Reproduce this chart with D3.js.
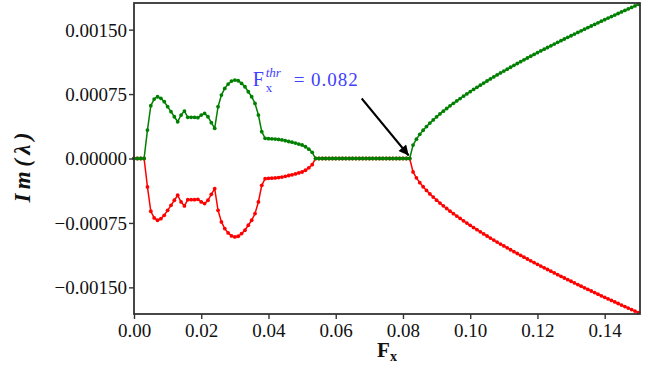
<!DOCTYPE html>
<html>
<head>
<meta charset="utf-8">
<script src="https://cdn.jsdelivr.net/npm/d3@7"></script>
<style>
  html, body { margin: 0; padding: 0; background: #fff; }
  svg { display: block; }
</style>
</head>
<body>
<svg id="chart" width="652" height="370"></svg>
<script>
// Driving force amplitude F_x
const fxValues = [
  0.000, 0.001, 0.002, 0.003, 0.004, 0.005, 0.006, 0.007, 0.008, 0.009,
  0.010, 0.011, 0.012, 0.013, 0.014, 0.015, 0.016, 0.017, 0.018, 0.019,
  0.020, 0.021, 0.022, 0.023, 0.024, 0.025, 0.026, 0.027, 0.028, 0.029,
  0.030, 0.031, 0.032, 0.033, 0.034, 0.035, 0.036, 0.037, 0.038, 0.039,
  0.040, 0.041, 0.042, 0.043, 0.044, 0.045, 0.046, 0.047, 0.048, 0.049,
  0.050, 0.051, 0.052, 0.053, 0.054, 0.055, 0.056, 0.057, 0.058, 0.059,
  0.060, 0.061, 0.062, 0.063, 0.064, 0.065, 0.066, 0.067, 0.068, 0.069,
  0.070, 0.071, 0.072, 0.073, 0.074, 0.075, 0.076, 0.077, 0.078, 0.079,
  0.080, 0.081, 0.082, 0.083, 0.084, 0.085, 0.086, 0.087, 0.088, 0.089,
  0.090, 0.091, 0.092, 0.093, 0.094, 0.095, 0.096, 0.097, 0.098, 0.099,
  0.100, 0.101, 0.102, 0.103, 0.104, 0.105, 0.106, 0.107, 0.108, 0.109,
  0.110, 0.111, 0.112, 0.113, 0.114, 0.115, 0.116, 0.117, 0.118, 0.119,
  0.120, 0.121, 0.122, 0.123, 0.124, 0.125, 0.126, 0.127, 0.128, 0.129,
  0.130, 0.131, 0.132, 0.133, 0.134, 0.135, 0.136, 0.137, 0.138, 0.139,
  0.140, 0.141, 0.142, 0.143, 0.144, 0.145, 0.146, 0.147, 0.148, 0.149,
  0.150
];

// Imaginary part of the eigenvalue, upper (green) branch
const imUpper = [
  0, 0, 0, 0, 0.000331, 0.000614, 0.000692, 0.000719, 0.000700, 0.000661,
  0.000603, 0.000545, 0.000486, 0.000428, 0.000506, 0.000552, 0.000479, 0.000479, 0.000479, 0.000475,
  0.000506, 0.000525, 0.000486, 0.000417, 0.000351, 0.000603, 0.000738, 0.000816, 0.000866, 0.000901,
  0.000913, 0.000905, 0.000874, 0.000835, 0.000777, 0.000719, 0.000641, 0.000506, 0.000312, 0.000235,
  0.000231, 0.000229, 0.000226, 0.000222, 0.000216, 0.000208, 0.000198, 0.000190, 0.000180, 0.000168,
  0.000157, 0.000137, 0.000108, 0.000072, 0, 0, 0, 0, 0, 0,
  0, 0, 0, 0, 0, 0, 0, 0, 0, 0,
  0, 0, 0, 0, 0, 0, 0, 0, 0, 0,
  0, 0, 0, 0.000156, 0.000225, 0.000281, 0.000329, 0.000372, 0.000412, 0.000449,
  0.000485, 0.000519, 0.000551, 0.000582, 0.000613, 0.000642, 0.000670, 0.000698, 0.000726, 0.000752,
  0.000778, 0.000804, 0.000829, 0.000854, 0.000878, 0.000902, 0.000926, 0.000950, 0.000973, 0.000996,
  0.001018, 0.001040, 0.001062, 0.001084, 0.001106, 0.001127, 0.001149, 0.001170, 0.001191, 0.001211,
  0.001232, 0.001252, 0.001272, 0.001292, 0.001312, 0.001332, 0.001352, 0.001371, 0.001391, 0.001410,
  0.001429, 0.001448, 0.001467, 0.001486, 0.001505, 0.001524, 0.001542, 0.001561, 0.001579, 0.001598,
  0.001616, 0.001634, 0.001652, 0.001670, 0.001688, 0.001706, 0.001724, 0.001741, 0.001759, 0.001776,
  0.001794
];

// Imaginary part of the eigenvalue, lower (red) branch
const imLower = [
  0, 0, 0, 0, -0.000331, -0.000614, -0.000692, -0.000719, -0.000700, -0.000661,
  -0.000603, -0.000545, -0.000486, -0.000428, -0.000506, -0.000552, -0.000479, -0.000479, -0.000479, -0.000475,
  -0.000506, -0.000525, -0.000486, -0.000417, -0.000351, -0.000603, -0.000738, -0.000816, -0.000866, -0.000901,
  -0.000913, -0.000905, -0.000874, -0.000835, -0.000777, -0.000719, -0.000641, -0.000506, -0.000312, -0.000235,
  -0.000231, -0.000229, -0.000226, -0.000222, -0.000216, -0.000208, -0.000198, -0.000190, -0.000180, -0.000168,
  -0.000157, -0.000137, -0.000108, -0.000072, 0, 0, 0, 0, 0, 0,
  0, 0, 0, 0, 0, 0, 0, 0, 0, 0,
  0, 0, 0, 0, 0, 0, 0, 0, 0, 0,
  0, 0, 0, -0.000156, -0.000225, -0.000281, -0.000329, -0.000372, -0.000412, -0.000449,
  -0.000485, -0.000519, -0.000551, -0.000582, -0.000613, -0.000642, -0.000670, -0.000698, -0.000726, -0.000752,
  -0.000778, -0.000804, -0.000829, -0.000854, -0.000878, -0.000902, -0.000926, -0.000950, -0.000973, -0.000996,
  -0.001018, -0.001040, -0.001062, -0.001084, -0.001106, -0.001127, -0.001149, -0.001170, -0.001191, -0.001211,
  -0.001232, -0.001252, -0.001272, -0.001292, -0.001312, -0.001332, -0.001352, -0.001371, -0.001391, -0.001410,
  -0.001429, -0.001448, -0.001467, -0.001486, -0.001505, -0.001524, -0.001542, -0.001561, -0.001579, -0.001598,
  -0.001616, -0.001634, -0.001652, -0.001670, -0.001688, -0.001706, -0.001724, -0.001741, -0.001759, -0.001776,
  -0.001794
];

const xTickValues = [0.00, 0.02, 0.04, 0.06, 0.08, 0.10, 0.12, 0.14];
const yTickValues = [-0.0015, -0.00075, 0, 0.00075, 0.0015];
const fxThreshold = 0.082;
const thresholdLabel = "0.082";

// ---- layout ----
const svg = d3.select("#chart");
const margin = { left: 134, top: 3, right: 12, bottom: 56 };
const W = 652, H = 370;
const innerW = W - margin.left - margin.right;
const innerH = H - margin.top - margin.bottom;
const serif = '"Liberation Serif", "Times New Roman", serif';

const x = d3.scaleLinear().domain([0, 0.1505]).range([0, innerW]);
const y = d3.scaleLinear().domain([-0.00181, 0.00181]).range([innerH, 0]);

const g = svg.append("g").attr("transform", `translate(${margin.left},${margin.top})`);

const defs = svg.append("defs");
defs.append("clipPath").attr("id", "plotclip")
  .append("rect").attr("x", -4).attr("y", -4).attr("width", innerW + 8).attr("height", innerH + 8);

const plot = g.append("g").attr("clip-path", "url(#plotclip)");

const line = d3.line().x(d => x(d[0])).y(d => y(d[1]));

function drawBranch(values, color) {
  const pts = fxValues.map((f, i) => [f, values[i]]);
  plot.append("path")
    .datum(pts)
    .attr("d", line)
    .attr("fill", "none")
    .attr("stroke", color)
    .attr("stroke-width", 1.5);
  plot.append("g").selectAll("circle")
    .data(pts)
    .join("circle")
    .attr("cx", d => x(d[0]))
    .attr("cy", d => y(d[1]))
    .attr("r", 1.9)
    .attr("fill", color);
}

drawBranch(imLower, "#ff0000");
drawBranch(imUpper, "#008000");

// ---- axes ----
const tickColor = "#333";

const xAxis = d3.axisBottom(x).tickValues(xTickValues).tickFormat(d3.format(".2f"))
  .tickSize(5).tickSizeOuter(0);
const gx = g.append("g").attr("transform", `translate(0,${innerH})`).call(xAxis);
gx.select(".domain").remove();
gx.selectAll("line").attr("stroke", tickColor).attr("stroke-width", 1.4);
gx.selectAll("text").attr("y", 23).attr("dy", 0).attr("fill", "#111")
  .style("font-family", serif).style("font-size", "19px");

const yAxis = d3.axisLeft(y).tickValues(yTickValues).tickFormat(d3.format(".5f"))
  .tickSize(5).tickPadding(2).tickSizeOuter(0);
const gy = g.append("g").call(yAxis);
gy.select(".domain").remove();
gy.selectAll("line").attr("stroke", tickColor).attr("stroke-width", 1.4);
gy.selectAll("text").attr("fill", "#111").attr("dy", "0.34em")
  .style("font-family", serif).style("font-size", "19px");

// frame
g.append("rect")
  .attr("x", 0).attr("y", 0).attr("width", innerW).attr("height", innerH)
  .attr("fill", "none").attr("stroke", tickColor).attr("stroke-width", 1.8);

// ---- axis titles ----
const xTitle = svg.append("text")
  .attr("x", margin.left + innerW / 2)
  .attr("y", 357)
  .attr("text-anchor", "middle")
  .style("font-family", serif)
  .style("font-size", "21px")
  .attr("font-weight", "bold")
  .attr("fill", "#111");
xTitle.append("tspan").text("F");
xTitle.append("tspan").style("font-size", "14px").attr("dy", 4).text("x");

svg.append("text")
  .attr("transform", `translate(30,${margin.top + innerH / 2 + 9}) rotate(-90)`)
  .attr("text-anchor", "middle")
  .style("font-family", serif)
  .style("font-size", "23px")
  .attr("font-weight", "bold")
  .attr("font-style", "italic")
  .attr("fill", "#111")
  .attr("textLength", 70)
  .attr("lengthAdjust", "spacing")
  .text("Im(λ)");

// ---- threshold annotation ----
const tipX = margin.left + x(fxThreshold) - 1;
const tipY = margin.top + y(0) - 3;
const tailX = tipX - 47;
const tailY = tipY - 57;

defs.append("marker")
  .attr("id", "arrowhead")
  .attr("viewBox", "0 0 10 10")
  .attr("refX", 10).attr("refY", 5)
  .attr("markerWidth", 6).attr("markerHeight", 5)
  .attr("markerUnits", "strokeWidth")
  .attr("orient", "auto")
  .append("path").attr("d", "M0,0 L10,5 L0,10 z").attr("fill", "#000");

svg.append("line")
  .attr("x1", tailX).attr("y1", tailY)
  .attr("x2", tipX).attr("y2", tipY)
  .attr("stroke", "#000").attr("stroke-width", 2)
  .attr("marker-end", "url(#arrowhead)");

const annColor = "#4040ff";
const annBaseX = tipX - 156;
const annBaseY = tipY - 70;
svg.append("text").attr("x", annBaseX).attr("y", annBaseY)
  .style("font-family", serif).style("font-size", "20px").attr("fill", annColor).text("F");
svg.append("text").attr("x", annBaseX + 13).attr("y", annBaseY - 9)
  .style("font-family", serif).style("font-size", "13px").attr("font-style", "italic")
  .attr("fill", annColor).text("thr");
svg.append("text").attr("x", annBaseX + 13).attr("y", annBaseY + 6)
  .style("font-family", serif).style("font-size", "13px").attr("fill", annColor).text("x");
svg.append("text").attr("x", annBaseX + 41).attr("y", annBaseY)
  .style("font-family", serif).style("font-size", "19px").attr("fill", annColor)
  .attr("textLength", 64).attr("lengthAdjust", "spacing")
  .text("= " + thresholdLabel);
</script>
</body>
</html>
